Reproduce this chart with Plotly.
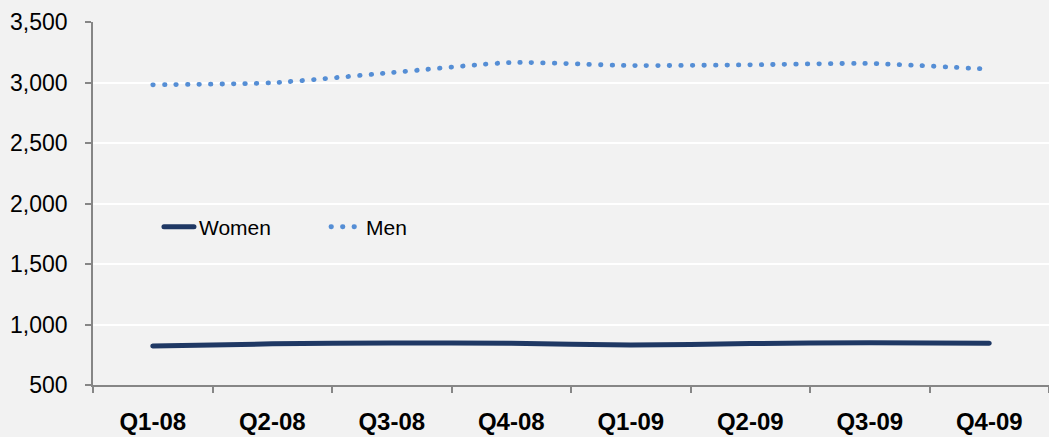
"""Quarterly headcount by gender, Excel-style smoothed lines."""
import plotly.graph_objects as go

quarters = ["Q1-08", "Q2-08", "Q3-08", "Q4-08", "Q1-09", "Q2-09", "Q3-09", "Q4-09"]
women = [822, 840, 848, 845, 830, 843, 849, 846]
men = [2981, 2998, 3082, 3165, 3140, 3146, 3157, 3110]

FONT = "Arial, 'Liberation Sans', sans-serif"
axis_gray = "#868686"

fig = go.Figure()
fig.add_trace(go.Scatter(
    x=quarters, y=women, name="Women", mode="lines",
    line=dict(color="#1f3864", width=5, shape="spline", smoothing=0.6),
))
# tiny dashes + round caps (set below) -> round dots like Excel's "round dot"
fig.add_trace(go.Scatter(
    x=quarters, y=men, name="Men", mode="lines",
    line=dict(color="#558ed5", width=4.8, shape="spline", smoothing=0.6, dash="0.5px,11px"),
))

fig.update_layout(
    width=1049, height=437,
    margin=dict(l=93, r=0, t=22, b=52),
    paper_bgcolor="#f2f2f2", plot_bgcolor="#f2f2f2",
    font=dict(family=FONT, size=23, color="#000000"),
    showlegend=True,
    legend=dict(
        orientation="h", x=0.069, y=0.435, xanchor="left", yanchor="middle",
        bgcolor="rgba(0,0,0,0)", font=dict(size=21),
        entrywidth=122, entrywidthmode="pixels",
    ),
)
fig.update_xaxes(
    type="category", range=[-0.5, 7.5], tickson="boundaries", automargin=False,
    showline=True, linecolor=axis_gray, linewidth=1.5,
    ticks="outside", ticklen=6, tickcolor=axis_gray, tickwidth=1.5,
    showgrid=False, tickfont=dict(size=24, family=FONT, weight="bold"),
    ticklabelstandoff=14,
)
fig.update_yaxes(
    range=[500, 3500], dtick=500, tickformat=",", automargin=False,
    showline=True, linecolor=axis_gray, linewidth=1.5,
    ticks="outside", ticklen=6, tickcolor=axis_gray, tickwidth=1.5,
    showgrid=True, gridcolor="#ffffff", gridwidth=2, zeroline=False,
    ticklabelstandoff=13,
)

# the page body has an 8px default margin; drop it so the figure fills the window
post = (
    "document.body.style.margin='0';document.body.style.overflow='hidden';"
    "document.querySelectorAll('path.js-line').forEach(function(p){p.style.strokeLinecap='round';});"
)
fig.write_html("out.html", config={"displayModeBar": False}, post_script=post)
